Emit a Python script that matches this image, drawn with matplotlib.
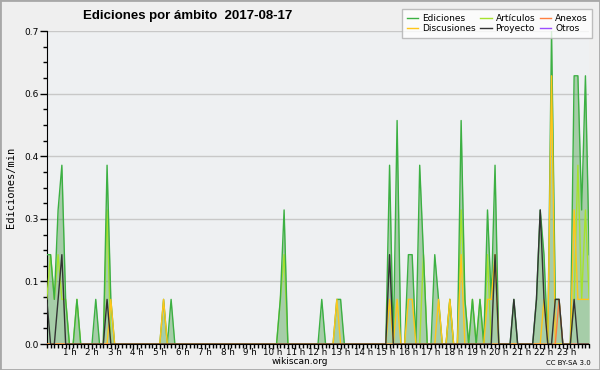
import numpy as np
import matplotlib
matplotlib.use('Agg')
import matplotlib.pyplot as plt
from matplotlib.lines import Line2D
from matplotlib.patches import Rectangle
from matplotlib.ticker import FixedLocator, MultipleLocator

# edits per minute, one value per 10-minute slot (slot index -> value, others are 0)
n_slots = 145
ediciones = {0: 0.2, 1: 0.2, 2: 0.1, 3: 0.3, 4: 0.4, 5: 0.1, 8: 0.1, 13: 0.1, 16: 0.4, 17: 0.1,
             31: 0.1, 33: 0.1, 62: 0.1, 63: 0.3, 73: 0.1, 77: 0.1, 78: 0.1,
             91: 0.4, 93: 0.5, 96: 0.2, 97: 0.2, 99: 0.4, 100: 0.2, 103: 0.2, 104: 0.1,
             107: 0.1, 110: 0.5, 111: 0.1, 113: 0.1, 115: 0.1, 117: 0.3, 118: 0.1, 119: 0.4,
             124: 0.1, 130: 0.1, 131: 0.3, 132: 0.2, 134: 0.7, 135: 0.1, 136: 0.1,
             140: 0.6, 141: 0.6, 142: 0.3, 143: 0.6, 144: 0.2}
articulos = {0: 0.1, 1: 0.2, 2: 0.1, 3: 0.2, 4: 0.1, 5: 0.1, 8: 0.1, 16: 0.3, 62: 0.1, 63: 0.2,
             100: 0.2, 107: 0.1, 110: 0.3, 111: 0.1, 113: 0.1, 115: 0.1, 117: 0.2,
             140: 0.1, 141: 0.4, 142: 0.1, 143: 0.3, 144: 0.1}
discusiones = {17: 0.1, 31: 0.1, 77: 0.1, 91: 0.1, 93: 0.1, 96: 0.1, 97: 0.1, 104: 0.1, 107: 0.1,
               110: 0.2, 117: 0.1, 118: 0.1, 119: 0.2, 132: 0.1, 134: 0.6,
               140: 0.3, 141: 0.1, 142: 0.1, 143: 0.1, 144: 0.1}
proyecto = {0: 0.1, 3: 0.1, 4: 0.2, 16: 0.1, 91: 0.2, 119: 0.2, 124: 0.1,
            130: 0.1, 131: 0.3, 132: 0.1, 135: 0.1, 136: 0.1, 140: 0.1}
anexos = {136: 0.1}
otros = {}

hour_labels = ['%d h' % h for h in range(1, 24)]
title = 'Ediciones por ámbito  2017-08-17'

c_edic = '#3cb043'
c_art = '#a6e22e'
c_disc = '#ffc61a'
c_proy = '#333333'
c_anex = '#ff7f3f'
c_otros = '#9b4dff'


def series(d):
    y = np.zeros(n_slots)
    for k, v in d.items():
        y[k] = v
    return y


x = np.arange(n_slots) / 6.0

fig = plt.figure(figsize=(6, 3.7), dpi=100, facecolor='#efefef')
ax = fig.add_axes([0.078, 0.07, 0.904, 0.846], facecolor='#eef0f2')

ye = series(ediciones)
ax.fill_between(x, 0, ye, color='#3a9a3a', alpha=0.4, lw=0, zorder=2)
ax.plot(x, series(otros), color=c_otros, lw=1, zorder=2)
ax.plot(x, series(articulos), color=c_art, lw=1, zorder=3)
ax.plot(x, ye, color=c_edic, lw=1, zorder=3)
ax.plot(x, series(discusiones), color=c_disc, lw=1, zorder=4)
ax.plot(x, series(anexos), color=c_anex, lw=1, zorder=4)
ax.plot(x, series(proyecto), color=c_proy, lw=1, zorder=5)

ax.set_xlim(0, 24)
ax.set_ylim(0, 0.7)

yt = np.linspace(0, 0.7, 6)
ax.yaxis.set_major_locator(FixedLocator(yt))
ax.set_yticklabels(['%.1f' % v for v in yt])
ax.yaxis.set_minor_locator(MultipleLocator(0.035))
ax.xaxis.set_major_locator(FixedLocator(range(1, 24)))
ax.set_xticklabels(hour_labels)
ax.xaxis.set_minor_locator(MultipleLocator(1 / 6))
ax.tick_params(axis='y', which='major', labelsize=6.5, length=5, width=1, pad=1)
ax.tick_params(axis='x', which='major', labelsize=6.3, length=3.5, width=1, pad=-0.5)
ax.tick_params(axis='both', which='minor', length=3, width=1)
ax.grid(axis='y', color='#c8c8c8', lw=1)
ax.set_axisbelow(True)
for s in ['top', 'right']:
    ax.spines[s].set_visible(False)

ax.set_ylabel('Ediciones/min', fontsize=7.5, family='DejaVu Sans Mono', labelpad=6)

fig.text(0.313, 0.957, title, ha='center', va='center', fontsize=9.5, fontweight='bold',
         family='Liberation Sans')
fig.text(0.5, 0.022, 'wikiscan.org', ha='center', va='center', fontsize=6.5)
fig.text(0.985, 0.02, 'CC BY-SA 3.0', ha='right', va='center', fontsize=5)

handles = [Line2D([], [], color=c_edic, lw=1), Line2D([], [], color=c_disc, lw=1),
           Line2D([], [], color=c_art, lw=1), Line2D([], [], color=c_proy, lw=1),
           Line2D([], [], color=c_anex, lw=1), Line2D([], [], color=c_otros, lw=1)]
labels = ['Ediciones', 'Discusiones', 'Artículos', 'Proyecto', 'Anexos', 'Otros']
leg = fig.legend(handles, labels, ncol=3, loc='upper right', bbox_to_anchor=(0.987, 0.975),
                 fontsize=6.5, frameon=True, fancybox=False, handlelength=1.3, handletextpad=0.4,
                 columnspacing=0.5, labelspacing=0.15, borderpad=0.5, borderaxespad=0)
leg.get_frame().set_edgecolor('#b0b0b0')
leg.get_frame().set_linewidth(1)

fig.patches.append(Rectangle((0, 0), 1, 1, transform=fig.transFigure, fill=False,
                             edgecolor='#a8a8a8', lw=2))

fig.savefig('out.png', dpi=100, facecolor=fig.get_facecolor())
